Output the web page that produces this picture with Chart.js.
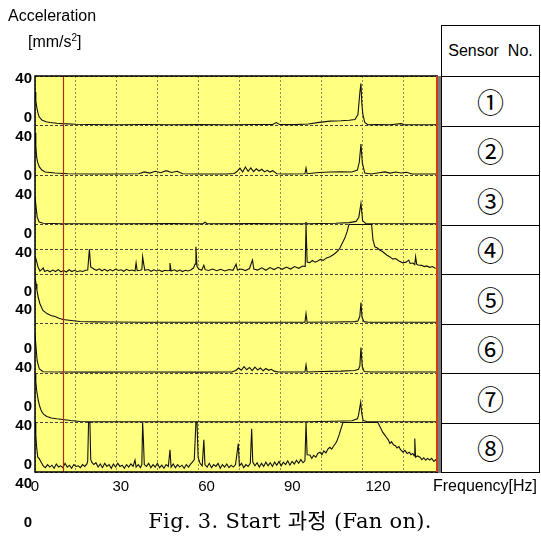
<!DOCTYPE html>
<html>
<head>
<meta charset="utf-8">
<script src="https://cdn.jsdelivr.net/npm/chart.js@4/dist/chart.umd.min.js"></script>
<style>
  body { margin: 0; background: #fff; }
  #wrap { position: relative; width: 541px; height: 536px; overflow: hidden; }
  #chart { position: absolute; left: 0; top: 0; }
  .txt { position: absolute; font-family: "Liberation Sans", Arial, sans-serif; color: #000; white-space: nowrap; }
  .cell { position: absolute; box-sizing: border-box; border: 1px solid #000; background: #fff;
          display: flex; align-items: center; justify-content: center; }
  .num { font-family: "Noto Sans CJK KR", "DejaVu Sans", sans-serif; font-size: 27px; }
  #shadow { position: absolute; left: 438px; top: 76px; width: 3px; height: 397px; background: #7a7a7a; }
  #caption { position: absolute; left: 0; width: 580px; top: 504px; text-align: center;
             font-family: "DejaVu Serif", "Liberation Serif", "Noto Sans CJK KR", serif; font-size: 21px; letter-spacing: 0.3px; }
</style>
</head>
<body>
<div id="wrap">
  <canvas id="chart" width="541" height="536"></canvas>
  <div class="txt" style="left:8px; top:7px; font-size:16px;">Acceleration</div>
  <div class="txt" style="left:28px; top:32px; font-size:16px;">[mm/s<sup style="font-size:10px">2</sup>]</div>
  <div class="txt" style="left:433px; top:477px; font-size:16px;">Frequency[Hz]</div>
  <div id="shadow"></div>
  <div id="table"></div>
  <div id="caption">Fig. 3. Start 과정 (Fan on).</div>
</div>
<script>
// frequency axis (Hz)
const xMax = 147.5;
const xGridStep = 15;
const xLabelStep = 30;
const xLabelMax = 141;     // tick labels in the figure are spread slightly wider than the grid
const markerHz = 10.2;     // red reference line

const sensorNames = ['①', '②', '③', '④', '⑤', '⑥', '⑦', '⑧'];
const stripRange = 40;     // each strip: 0 .. 40 mm/s2
const yTickLabels = ['40', '0'];
const yGridTicks = [0, 40, 80, 120, 160, 180, 200, 240, 280, 320];

// [Hz, mm/s2]
const sensor1 = [[0,27],[0.3,20],[0.7,14],[1.1,10],[1.5,7],[2.5,4.5],[4,3],[5.5,2.4],[8,1.8],[10,1.5],[15,1],[20,0.8],[30,0.6],[40,0.8],[50,0.6],[60,0.7],[70,0.6],[80,0.8],[87,0.8],[88.3,2.4],[89.5,0.8],[95,0.7],[100,1.2],[104,2.5],[108,3.5],[112,3.8],[115,4.2],[117.1,4.8],[118.2,8.9],[118.9,26.7],[119.3,34],[119.6,18.6],[120,8.9],[120.7,2.4],[121.8,0.6],[125,0.8],[130,0.6],[134,1.5],[135,0.7],[140,0.6],[147.5,0.6]];
const sensor2 = [[0,34],[0.3,24],[0.6,14.5],[1,10],[1.6,6.5],[2.5,4],[3.7,2.4],[7.3,1.6],[12,1],[20,0.8],[30,0.8],[38,1],[40,2.5],[42,1.5],[44,3],[46,1.8],[48,3.5],[50,2],[52,3],[54,1],[60,0.8],[70,0.8],[73,1.2],[74,3],[75,5.5],[76,2.5],[77,6.5],[78,3],[79,5.8],[80,2.8],[81,5],[82,3.2],[83,4.6],[84,2.5],[85,3.8],[86,2.4],[87,3.5],[88.5,1],[92,0.8],[98.8,1],[99.2,5.7],[99.6,1],[104,2],[108,2.4],[112,2.6],[116,2.4],[118,4],[118.7,10.5],[119.3,25],[119.8,9.7],[120.7,1.6],[123,0.8],[126,1.8],[128,2.5],[130,1.5],[132,2.4],[134,1.6],[136,2.2],[138,0.8],[147.5,0.8]];
const sensor3 = [[0,22],[0.4,14],[0.8,6],[1.5,2],[3,1],[10,0.6],[30,0.6],[50,0.7],[61.5,0.6],[62.2,1.8],[63,0.6],[80,0.7],[98.8,0.6],[99.2,1.5],[99.6,0.6],[110,1],[115,1.5],[117.5,2.5],[118.5,5.7],[119.3,17],[119.9,3.2],[121,0.8],[147.5,0.6]];
const sensor4 = [[0,14],[0.4,12],[1.1,5.7],[1.8,2.4],[2.4,3.5],[3,4.8],[3.5,2],[4.5,3],[5.5,1.8],[6.5,3.2],[7.5,2],[8.5,3.5],[9.5,1.8],[10.5,2.8],[11.5,1.6],[12.5,3.4],[13.5,2],[14.5,3],[15.5,1.8],[16.5,2.6],[17.5,2],[18.5,3],[19.3,3.2],[19.9,20],[20.4,5.7],[21.5,4],[22.5,3],[23.5,4.2],[24.5,2.6],[25.5,3.8],[26.5,2.4],[27.5,3.6],[28.5,2.5],[29.5,4],[30.5,2.8],[31.5,3.4],[32.5,2.2],[33.5,3.8],[34.5,2.6],[35.5,3.2],[36.6,2.4],[37,9],[37.4,2.8],[38.5,3],[39.1,3.5],[39.4,14],[39.8,8],[40.2,3],[41.5,3.6],[42.5,2.2],[43.5,3.4],[44.5,2.4],[45.5,3.2],[46.5,2],[47.5,3],[48.5,2.6],[49.1,2.8],[49.4,8.9],[49.8,2.5],[51,3.4],[52,2.2],[53,3.2],[54,2],[55,3],[56,2.4],[57,3.2],[58,4.8],[58.6,8],[58.9,22],[59.3,6],[60,4],[61,3],[61.8,7],[62.3,3.5],[63.5,2.8],[65,4],[66.5,2.6],[68,3.8],[69.5,2.4],[71,3.6],[72.5,3],[73.6,8],[74.1,3.2],[75.5,4],[77,2.8],[78.5,4.4],[79.6,11.3],[80.1,4],[81.5,3.2],[83,5],[84.5,3],[86,5.2],[87.5,3.6],[89,5.4],[90.5,3.8],[92,5.6],[93.5,4],[95,6],[96.5,4.6],[98,6.4],[98.9,6],[99.2,40],[99.6,9.7],[100.6,9.2],[101.5,11],[102.5,9.5],[103.5,10.5],[104.5,11.8],[105.5,11],[106.7,13],[108,14],[109,15.4],[110,17],[111,19],[111.6,21],[112.5,25],[113.4,29],[114.2,34],[114.9,40],[123.2,40],[123.7,27.5],[124.4,22],[125.3,21],[126.2,19.4],[127.3,18],[128.7,15.4],[129.8,14],[131,12],[132,12.5],[133.2,10.5],[134.6,9],[135.8,9.6],[136.8,11.3],[137.3,8.5],[138.3,8.9],[139,7.5],[139.3,14],[139.7,8],[140.2,7.3],[141.5,7],[142.5,6],[143.3,6.5],[144.5,5.4],[145.5,6],[146.3,4.8],[147.5,4.6]];
const sensor5 = [[0,37],[0.4,32],[0.7,27],[1.2,21],[1.8,16],[2.9,10.5],[4.4,8],[5.8,6.5],[7.3,5.7],[8.8,4.2],[10.2,3.2],[12.5,2.6],[16.5,1.6],[22,1.3],[27.4,1.2],[40,1],[60,1],[80,1],[98.8,1],[99.2,8],[99.6,1],[110,1.2],[117,1.5],[118.2,2],[118.9,6],[119.3,17],[119.7,5],[120.4,1.5],[122,1],[147.5,1]];
const sensor6 = [[0,31.5],[0.4,20],[0.8,9.7],[1.6,3.2],[3,1],[10,0.8],[20,0.7],[40,0.8],[60,0.7],[72,0.8],[73.5,2],[74.5,4],[75.5,2.2],[76.5,5.2],[77.5,2.6],[78.5,4.5],[79.5,2],[80.5,4.8],[81.5,2.4],[82.5,4],[83.5,1.8],[84.5,3.6],[85.5,2.2],[86.5,3],[87.5,1.5],[89,0.8],[98.8,0.8],[99.2,6.5],[99.6,0.8],[105,1.2],[112,1.5],[117,2],[118.4,3],[118.9,5.7],[119.3,20.5],[119.8,5],[120.5,1.2],[123,0.8],[147.5,0.8]];
const sensor7 = [[0,39.3],[0.3,33],[0.6,26],[1.2,17.8],[1.8,12.5],[2.4,9],[3.2,6.5],[4.3,4.8],[6,3.6],[7.9,3],[10.2,2.4],[13,1.6],[16.5,0.8],[22,0.6],[40,0.6],[60,0.6],[80,0.6],[99,0.6],[110,1],[116,1.4],[118,3],[118.4,5.7],[119.2,16.4],[119.6,7.3],[120.1,1.6],[121.5,0.8],[147.5,0.6]];
const sensor8 = [[0,40],[0.3,30],[0.6,20],[1,12],[1.5,11],[2.2,8],[3,5],[3.8,3.5],[4.6,6],[5.4,4],[6.2,5.5],[7,3],[7.8,6.5],[8.6,4],[9.4,5],[10.2,3.5],[11,7],[11.8,4],[12.6,5.5],[13.4,3],[14.2,6],[15,4.5],[15.8,5],[16.6,3.5],[17.4,6],[18.2,4.5],[19,6.5],[19.3,9],[19.6,40],[20.1,40],[20.4,10],[20.8,8],[21.5,6],[22.3,7.5],[23.1,4],[23.9,6.5],[24.7,3.5],[25.5,7],[26.3,4.5],[27.1,6],[27.9,3],[28.7,6.5],[29.5,4],[30.3,7],[31.1,4.5],[31.9,5.5],[32.7,3],[33.5,6],[34.3,4],[35.1,6.5],[35.9,4.5],[36.6,9.7],[37,4],[37.8,6],[38.6,3.5],[39.1,6],[39.4,40],[39.7,25],[40,6],[40.8,4.5],[41.6,7],[42.4,3.5],[43.2,6],[44,4],[44.8,7],[45.6,3.5],[46.4,5.5],[47.2,3],[48,6],[48.8,4.5],[49.4,18],[49.8,4],[50.6,6.5],[51.4,3.5],[52.2,6],[53,4],[53.8,5.5],[54.6,3],[55.4,6],[56.2,4],[57,6.5],[57.6,8],[58.3,10],[58.9,40],[59.3,40],[59.7,12],[60.4,7],[61.2,5],[61.8,26],[62.2,6],[63,4],[63.8,7],[64.6,3.5],[65.4,6],[66.2,4.5],[67,7],[67.8,3],[68.6,6],[69.4,4],[70.2,6.5],[71,3.5],[71.8,5.5],[72.6,4],[73.4,6],[74.4,23],[74.8,5],[75.6,7],[76.4,3.5],[77.2,6],[78,4.5],[78.8,7],[79.3,35],[79.7,8],[80.5,5],[81.3,7.5],[82.1,4],[82.9,7],[83.7,4.5],[84.5,8],[85.3,5],[86.1,7.5],[86.9,4.5],[87.7,8],[88.5,5.5],[89.3,8.5],[90.1,5],[90.9,8],[91.7,6],[92.5,9],[93.3,5.5],[94.1,8.5],[94.9,6.5],[95.7,9.5],[96.5,7],[97.3,10],[98.1,7.5],[98.8,9],[99.2,40],[99.6,14],[100.6,13.7],[101.3,11],[102,13.5],[102.8,12],[103.5,15],[104.3,16],[105,14],[105.7,17],[106.5,15.5],[107.2,18.5],[107.9,20],[108.6,18.5],[109.3,21],[110,23],[110.5,25],[111.3,30],[112,35],[112.7,40],[125.5,40],[126.2,37],[127.3,32],[128,30],[128.8,27.5],[129.3,26],[129.9,23],[130.5,24.5],[131.2,22],[132,21],[132.5,19.4],[133.2,20.5],[133.8,18],[134.7,16],[135.4,17.5],[136.2,15],[137,16],[137.6,14],[138.3,15],[138.8,13],[139,27],[139.3,12],[140,13],[140.9,12],[141.6,10],[142.3,11.5],[143,9.5],[143.7,11],[144.5,9.7],[145.2,11],[146,8.5],[146.7,10],[147.1,8],[147.5,9]];

const sensors = [sensor1, sensor2, sensor3, sensor4, sensor5, sensor6, sensor7, sensor8];
const nStrips = sensors.length;

// table on the right
const table = document.getElementById('table');
function addCell(html, top, h, cls, fs) {
  const d = document.createElement('div');
  d.className = 'cell ' + (cls || '');
  d.style.left = '441px'; d.style.width = '99px';
  d.style.top = top + 'px'; d.style.height = h + 'px';
  if (fs) { d.style.fontFamily = '"Liberation Sans", Arial, sans-serif'; d.style.fontSize = fs; }
  d.innerHTML = html;
  table.appendChild(d);
}
addCell('Sensor&nbsp; No.', 25, 52, '', '16px');
sensorNames.forEach((n, i) => addCell(n, 76 + i * 49.5, 50.5, 'num'));

const framePlugin = {
  id: 'frame',
  beforeDraw(chart) {
    const { ctx, chartArea: a } = chart;
    ctx.save();
    ctx.fillStyle = '#ffff80';
    ctx.fillRect(a.left, a.top, a.right - a.left, a.bottom - a.top);
    ctx.restore();
  },
  afterDatasetsDraw(chart) {
    const { ctx, chartArea: a, scales } = chart;
    ctx.save();
    // marker line
    const mx = Math.round(scales.x.getPixelForValue(markerHz)) + 0.5;
    ctx.strokeStyle = '#b4280c';
    ctx.lineWidth = 1.2;
    ctx.beginPath(); ctx.moveTo(mx, a.top); ctx.lineTo(mx, a.bottom); ctx.stroke();
    // frame
    ctx.strokeStyle = '#000';
    ctx.lineWidth = 1.5;
    ctx.beginPath();
    ctx.moveTo(a.right, a.top); ctx.lineTo(a.left, a.top);
    ctx.lineTo(a.left, a.bottom); ctx.lineTo(a.right, a.bottom);
    ctx.stroke();
    ctx.strokeStyle = '#d23c14';
    ctx.lineWidth = 2;
    ctx.beginPath(); ctx.moveTo(a.right - 1, a.top); ctx.lineTo(a.right - 1, a.bottom); ctx.stroke();
    // y labels (drawn as in the original, offset from the strips)
    ctx.fillStyle = '#000';
    ctx.font = 'bold 15px "Liberation Sans", Arial, sans-serif';
    ctx.textAlign = 'right';
    ctx.textBaseline = 'middle';
    const pitch = 57.8;
    for (let i = 0; i < nStrips; i++) {
      ctx.fillText(yTickLabels[0], 32, 79 + i * pitch);
      ctx.fillText(yTickLabels[1], 32, 118 + i * pitch);
    }
    ctx.restore();
  }
};

new Chart(document.getElementById('chart'), {
  type: 'line',
  data: {
    datasets: sensors.map((s, i) => ({
      label: sensorNames[i],
      data: s.map(([f, v]) => ({ x: f, y: v + (nStrips - 1 - i) * stripRange })),
      borderColor: '#111',
      borderWidth: 1.1,
      pointRadius: 0,
      tension: 0
    }))
  },
  options: {
    responsive: false,
    animation: false,
    layout: { padding: { left: 35, top: 76, right: 103, bottom: 0 } },
    plugins: { legend: { display: false }, tooltip: { enabled: false } },
    scales: {
      x: {
        type: 'linear', position: 'bottom', min: 0, max: xMax,
        ticks: { display: false, stepSize: xGridStep, includeBounds: false },
        grid: { color: '#8a8a5c', lineWidth: 1, drawTicks: false },
        border: { display: false, dash: [2, 2] },
        afterFit: s => { s.height = 0; }
      },
      xLab: {
        type: 'linear', position: 'bottom', min: 0, max: xLabelMax,
        ticks: { stepSize: xLabelStep, includeBounds: false, color: '#000', padding: 6,
                 font: { family: '"Liberation Sans", Arial, sans-serif', size: 15 } },
        grid: { display: false, drawTicks: false },
        border: { display: false },
        afterFit: s => { s.height = 64; }
      },
      y: {
        type: 'linear', position: 'left', min: 0, max: nStrips * stripRange,
        afterBuildTicks: s => { s.ticks = yGridTicks.map(v => ({ value: v })); },
        ticks: { display: false },
        grid: { color: '#444', lineWidth: 1, drawTicks: false },
        border: { display: false, dash: [3, 2] },
        afterFit: s => { s.width = 0; }
      }
    }
  },
  plugins: [framePlugin]
});
</script>
</body>
</html>
